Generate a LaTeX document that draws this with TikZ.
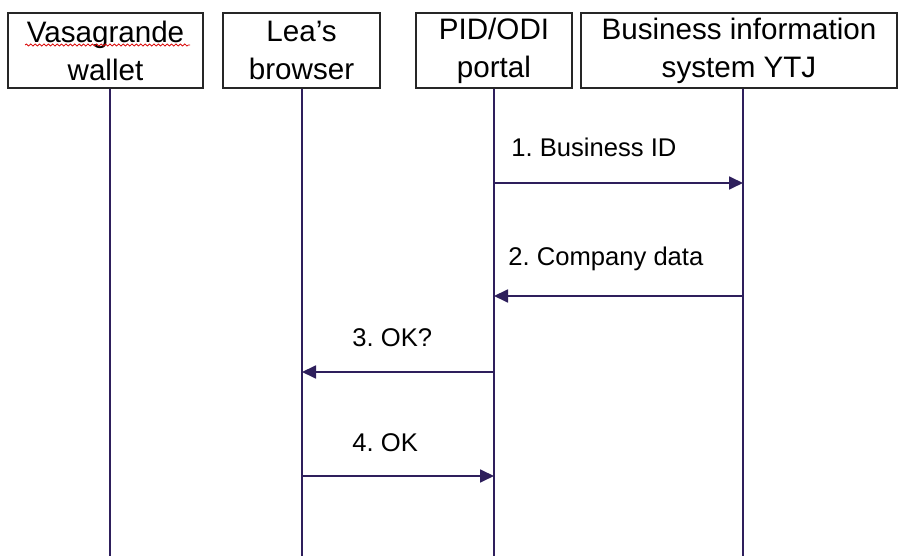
\documentclass[tikz,border=0pt]{standalone}
\usepackage{fontspec}
\setmainfont{Liberation Sans}
\frenchspacing
\usetikzlibrary{arrows.meta,decorations.pathmorphing}
\definecolor{lifeink}{HTML}{2E1F5C}
\begin{document}
\begin{tikzpicture}[
            x=0.5pt, y=-0.5pt,
            actor/.style={rectangle, draw=black!85, line width=0.7pt, minimum height=37.5pt, inner sep=0pt, align=center, font=\fontsize{14.8}{19}\selectfont},
            lifeline/.style={draw=lifeink, line width=0.9pt},
            msg/.style={draw=lifeink, line width=0.9pt, -{Triangle[length=7pt,width=6.5pt]}},
            msglabel/.style={anchor=base west, inner sep=0pt, font=\fontsize{12.8}{15}\selectfont}
        ]
        \useasboundingbox (0,0) rectangle (902,556);
        % participants
        \node[actor, minimum width=97.5pt] (wallet) at (105.5,50.5) {Vasagrande\\wallet};
        \node[actor, minimum width=78.5pt] (browser) at (301.5,50.5) {Lea’s\\browser};
        \node[actor, minimum width=78pt] (portal) at (494,50.5) {PID/ODI\\portal};
        \node[actor, minimum width=158pt] (ytj) at (739,50.5) {Business information\\system YTJ};
        % spell check mark
        \draw[red!85!black, line width=0.4pt, decorate, decoration={snake, amplitude=0.5pt, segment length=2.2pt}] (25,45) -- (190,45);
        % lifelines
        \coordinate (wallet end) at (110,556);
        \coordinate (browser end) at (302,556);
        \coordinate (portal end) at (494,556);
        \coordinate (ytj end) at (743,556);
        \foreach \p in {wallet,browser,portal,ytj}
            \draw[lifeline] (\p.south -| \p\space end) -- (\p\space end);
        % messages
        \coordinate (p1) at (494,183); \coordinate (y1) at (743,183);
        \coordinate (y2) at (743,296); \coordinate (p2) at (494,296);
        \coordinate (p3) at (494,372); \coordinate (b3) at (302,372);
        \coordinate (b4) at (302,476); \coordinate (p4) at (494,476);
        \draw[msg] (p1) -- (y1);
        \draw[msg] (y2) -- (p2);
        \draw[msg] (p3) -- (b3);
        \draw[msg] (b4) -- (p4);
        \node[msglabel] (m1) at (511,157) {1. Business ID};
        \node[msglabel] (m2) at (508,266) {2. Company data};
        \node[msglabel] (m3) at (352,347) {3. OK?};
        \node[msglabel] (m4) at (352,452) {4. OK};
    \end{tikzpicture}
\end{document}
